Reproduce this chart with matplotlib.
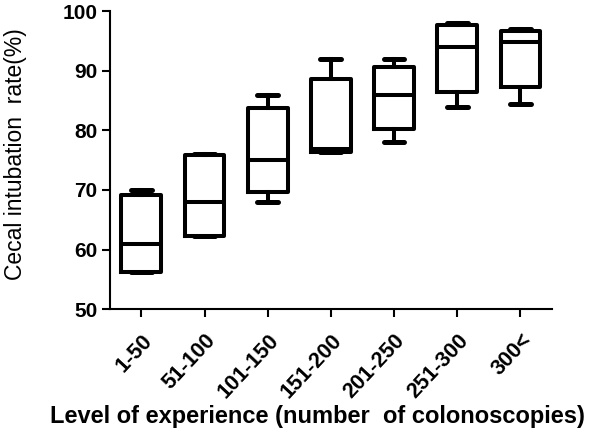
import matplotlib
matplotlib.use("Agg")
import matplotlib.pyplot as plt

# Data
groups = ["1-50", "51-100", "101-150", "151-200", "201-250", "251-300", "300<"]
mins = [56.3, 62.3, 68, 76.4, 78, 84, 84.5]
q1 = [56.3, 62.3, 69.7, 76.4, 80.3, 86.4, 87.2]
medians = [61, 68, 75, 76.9, 86, 94, 94.8]
q3 = [69.1, 75.8, 83.7, 88.6, 90.6, 97.6, 96.6]
maxs = [70, 76, 86, 92, 92, 98, 97]

plt.rcParams['font.family'] = ['Liberation Sans', 'DejaVu Sans']

stats = []
for i, g in enumerate(groups):
    stats.append({"label": g, "whislo": mins[i], "q1": q1[i], "med": medians[i],
                  "q3": q3[i], "whishi": maxs[i], "fliers": []})

fig = plt.figure(figsize=(6, 4.3), dpi=100)
ax = fig.add_axes([0.183, 0.281, 0.737, 0.693])

lw = 2.9
ax.bxp(stats, positions=range(len(groups)), widths=0.63, showfliers=False,
       boxprops=dict(color="black", linewidth=lw),
       medianprops=dict(color="black", linewidth=lw),
       whiskerprops=dict(color="black", linewidth=lw),
       capprops=dict(color="black", linewidth=lw + 0.7, solid_capstyle="round"),
       capwidths=0.33)

ax.set_xlim(-0.5, 6.5)
ax.set_ylim(50, 100)
ax.set_yticks([50, 60, 70, 80, 90, 100])
ax.set_xticks(range(len(groups)))
ax.set_xticklabels(groups, rotation=47, ha="right", rotation_mode="anchor",
                   fontsize=15.5, fontweight="bold")
for lab in ax.get_yticklabels():
    lab.set_fontsize(15)
    lab.set_fontweight("bold")

ax.spines["top"].set_visible(False)
ax.spines["right"].set_visible(False)
ax.spines["left"].set_linewidth(1.5)
ax.spines["bottom"].set_linewidth(1.5)
ax.tick_params(axis="both", direction="out", length=6, width=1.5)
ax.tick_params(axis="x", pad=9)
ax.tick_params(axis="y", pad=3)

ax.set_ylabel("Cecal intubation  rate(%)", fontsize=16.5)
ax.yaxis.set_label_coords(-0.188, 0.52)
fig.text(0.529, 0.016, "Level of experience (number  of colonoscopies)",
         fontsize=17, fontweight="bold", ha="center", va="baseline")

fig.savefig("out.png", dpi=100)
